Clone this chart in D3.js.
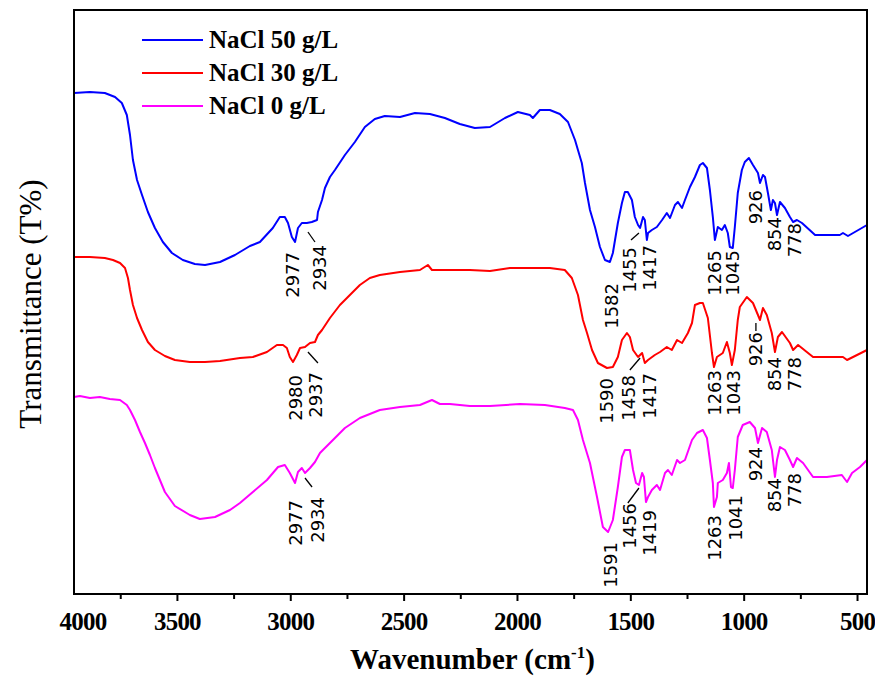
<!DOCTYPE html>
<html><head><meta charset="utf-8">
<script src="https://cdn.jsdelivr.net/npm/d3@7"></script>
<style>body{margin:0;background:#fff}</style>
</head><body><svg id="c" width="875" height="682"></svg>
<script>
// ---- data (wavenumber in cm-1, transmittance in arbitrary units) ----
const seriesNames = ["NaCl 50 g/L", "NaCl 30 g/L", "NaCl 0 g/L"];
const seriesColors = ["#0000ff", "#ff0000", "#ff00ff"];

const wnBlue = [3954,3884,3818,3773,3743,3721,3707,3694,3676,3654,3628,3597,3562,3522,3474,3421,3376,3310,3244,3178,3134,3077,3046,3024,3010,2993,2979,2966,2949,2927,2905,2882,2878,2860,2847,2825,2803,2759,2715,2671,2627,2583,2516,2450,2384,2318,2252,2186,2119,2053,1996,1943,1930,1899,1855,1811,1775,1744,1731,1714,1700,1678,1656,1634,1612,1590,1577,1555,1537,1524,1511,1493,1480,1466,1457,1444,1436,1427,1422,1405,1383,1360,1339,1325,1303,1290,1272,1259,1237,1215,1193,1180,1162,1149,1136,1127,1114,1096,1083,1070,1061,1048,1039,1026,1008,995,977,959,937,928,915,906,893,880,871,862,853,840,818,796,782,765,743,685,576,562,540,456];
const tBlue = [501,502,501,497,491,479,459,434,414,399,382,366,352,341,334,330,329,332,339,348,352,366,377,377,371,357,352,366,371,371,372,374,382,394,406,417,424,439,452,467,475,478,477,481,480,476,470,466,467,476,482,479,476,484,484,480,472,454,444,431,411,384,367,347,334,332,341,371,391,402,402,394,377,369,366,377,374,354,361,364,367,374,381,376,389,392,386,394,407,417,429,431,426,404,377,354,367,364,369,361,347,346,367,401,424,432,436,429,421,411,419,417,401,384,394,391,379,392,386,377,372,374,371,359,359,361,358,369];

const wnRed = [3954,3884,3818,3782,3751,3729,3716,3707,3694,3676,3654,3628,3597,3553,3509,3443,3376,3310,3222,3165,3103,3059,3032,3015,3002,2988,2971,2957,2935,2913,2891,2878,2860,2825,2781,2737,2693,2649,2605,2516,2428,2393,2375,2296,2208,2119,2031,1943,1855,1789,1758,1731,1709,1691,1669,1643,1603,1577,1555,1537,1515,1502,1488,1466,1448,1436,1422,1392,1369,1339,1317,1294,1272,1246,1228,1215,1193,1180,1158,1140,1131,1118,1092,1074,1061,1052,1039,1026,1017,986,959,937,928,915,898,876,862,849,831,796,782,760,694,562,544,456];
const tRed = [337,337,336,334,331,326,316,304,289,276,264,252,244,238,234,232,232,233,236,237,242,249,249,246,237,232,239,246,247,251,252,259,264,276,289,299,309,316,319,322,324,329,324,324,324,323,326,326,326,324,316,299,274,261,244,231,226,227,237,254,261,257,244,237,241,231,234,239,242,247,244,254,251,261,271,289,291,291,276,241,227,237,241,252,241,229,244,274,287,297,291,279,274,286,279,261,242,257,262,251,244,249,237,237,234,244];

const wnMag = [3954,3928,3884,3840,3796,3751,3721,3707,3685,3663,3641,3619,3597,3575,3553,3509,3443,3399,3332,3266,3222,3165,3103,3054,3024,3002,2979,2966,2949,2935,2913,2891,2869,2856,2803,2759,2693,2605,2516,2428,2375,2340,2296,2208,2119,1987,1877,1789,1753,1731,1709,1678,1647,1621,1598,1577,1555,1537,1524,1502,1488,1475,1462,1448,1440,1431,1422,1405,1383,1369,1347,1334,1317,1294,1281,1259,1228,1206,1180,1162,1149,1136,1131,1118,1114,1092,1074,1065,1056,1048,1039,1026,1004,973,950,937,919,898,876,862,853,840,818,796,782,765,738,694,633,567,544,522,487,456];
const tMag = [197,198,196,197,195,194,189,184,174,162,151,139,126,114,102,88,79,75,77,84,91,102,114,127,129,121,111,122,126,121,126,132,141,144,156,166,176,184,187,189,194,190,190,188,188,190,189,186,184,174,154,131,97,67,62,74,107,137,144,144,124,111,109,121,117,92,97,104,109,104,121,124,119,134,131,134,154,161,164,156,134,111,87,97,111,114,121,131,107,106,124,157,169,172,166,151,166,162,144,117,134,147,144,134,127,136,131,117,117,119,112,121,127,134];

// peak annotations: label text and anchor [wavenumber, transmittance at top of label]
const labelsBlue = ["2977","2934","1582","1455","1417","1265","1045","926","854","778"];
const anchorsBlue = [[2988,342],[2869,349],[1581,311],[1502,347],[1414,349],[1127,344],[1048,344],[946,404],[862,377],[774,371]];
const labelsRed = ["2980","2937","1590","1458","1417","1263","1043","926","854","778"];
const anchorsRed = [[2979,219],[2887,222],[1603,216],[1506,219],[1414,221],[1127,224],[1043,224],[946,262],[862,237],[774,237]];
const labelsMag = ["2977","2934","1591","1456","1419","1263","1041","924","854","778"];
const anchorsMag = [[2979,94],[2882,97],[1586,52],[1502,91],[1414,84],[1127,79],[1034,99],[946,147],[862,116],[774,121]];
// leader lines [wn1, t1, wn2, t2]
const leaders = [[2922,362,2891,352],[1497,354,1462,361],[2922,242,2878,231],[1502,224,1457,236],[946,263,946,271],[2935,116,2904,107],[1511,91,1462,106]];

const xTicks = [3500,3000,2500,2000,1500,1000,500];
const xMinorTicks = [3750,3250,2750,2250,1750,1250,750];
const xTitle = "Wavenumber (cm";
const yTitle = "Transmittance (T%)";

// ---- drawing ----
const svg = d3.select("#c");
const L = 74, R = 867, T = 10, B = 594;
const x = d3.scaleLinear().domain([3954, 456]).range([L, R]);
const y = d3.scaleLinear().domain([0, 584]).range([B, T]);

const series = [[wnBlue,tBlue],[wnRed,tRed],[wnMag,tMag]];
const line = d3.line().x(d => x(d[0])).y(d => y(d[1]));
series.forEach((s, i) => {
  const pts = s[0].map((w, j) => [w, s[1][j]]);
  svg.append("path").attr("d", line(pts)).attr("fill","none")
    .attr("stroke", seriesColors[i]).attr("stroke-width", 2).attr("stroke-linejoin","round");
});

// annotations
const annFont = "'DejaVu Sans', Verdana, sans-serif";
[[labelsBlue,anchorsBlue],[labelsRed,anchorsRed],[labelsMag,anchorsMag]].forEach(([labs, anc]) => {
  labs.forEach((t, i) => {
    svg.append("text")
      .attr("transform", `translate(${x(anc[i][0])},${y(anc[i][1])}) rotate(-90)`)
      .attr("text-anchor","end").attr("dy","0.36em")
      .attr("font-family", annFont).attr("font-size", 18).attr("fill","#000")
      .text(t);
  });
});
leaders.forEach(l => {
  svg.append("line").attr("x1", x(l[0])).attr("y1", y(l[1])).attr("x2", x(l[2])).attr("y2", y(l[3]))
    .attr("stroke","#000").attr("stroke-width",1.3);
});

// frame
svg.append("rect").attr("x", L).attr("y", T).attr("width", R-L).attr("height", B-T)
  .attr("fill","none").attr("stroke","#000").attr("stroke-width",2);

// x axis
const serif = "'Liberation Serif','Times New Roman',serif";
const ax = svg.append("g").attr("transform", `translate(0,${B})`)
  .call(d3.axisBottom(x).tickValues(xTicks).tickFormat(d3.format("d")).tickSizeInner(7).tickSizeOuter(0).tickPadding(11));
ax.attr("font-family", serif);
ax.select(".domain").remove();
ax.selectAll(".tick line").attr("stroke","#000").attr("stroke-width",2);
ax.selectAll(".tick text").attr("font-family", serif).attr("font-weight","bold").attr("font-size",25)
  .attr("letter-spacing","-0.8").attr("fill","#000");
ax.append("text").attr("x", L + 9).attr("y", 18).attr("dy","0.71em").attr("text-anchor","middle")
  .attr("font-family", serif).attr("font-weight","bold").attr("font-size",25).attr("letter-spacing","-0.8")
  .attr("fill","#000").text("4000");
const axm = svg.append("g").attr("transform", `translate(0,${B})`)
  .call(d3.axisBottom(x).tickValues(xMinorTicks).tickFormat("").tickSizeInner(5).tickSizeOuter(0));
axm.select(".domain").remove();
axm.selectAll(".tick line").attr("stroke","#000").attr("stroke-width",2);

// titles
const xt = svg.append("text").attr("x", (L+R)/2 + 2).attr("y", 669).attr("text-anchor","middle")
  .attr("font-family", serif).attr("font-weight","bold").attr("font-size",29).attr("fill","#000");
xt.append("tspan").text(xTitle);
xt.append("tspan").attr("dy",-11).attr("font-size",17).text("-1");
xt.append("tspan").attr("dy",11).text(")");
svg.append("text").attr("transform","translate(30,304) rotate(-90)").attr("text-anchor","middle")
  .attr("dy","0.35em").attr("font-family", serif).attr("font-size",31).attr("fill","#000").text(yTitle);

// legend
seriesNames.forEach((n, i) => {
  const ly = 40 + i * 33;
  svg.append("line").attr("x1",142).attr("x2",203).attr("y1",ly).attr("y2",ly)
    .attr("stroke", seriesColors[i]).attr("stroke-width",2);
  svg.append("text").attr("x",209).attr("y",ly).attr("dy","0.33em")
    .attr("font-family", serif).attr("font-weight","bold").attr("font-size",25).attr("fill","#000").text(n);
});
</script></body></html>
